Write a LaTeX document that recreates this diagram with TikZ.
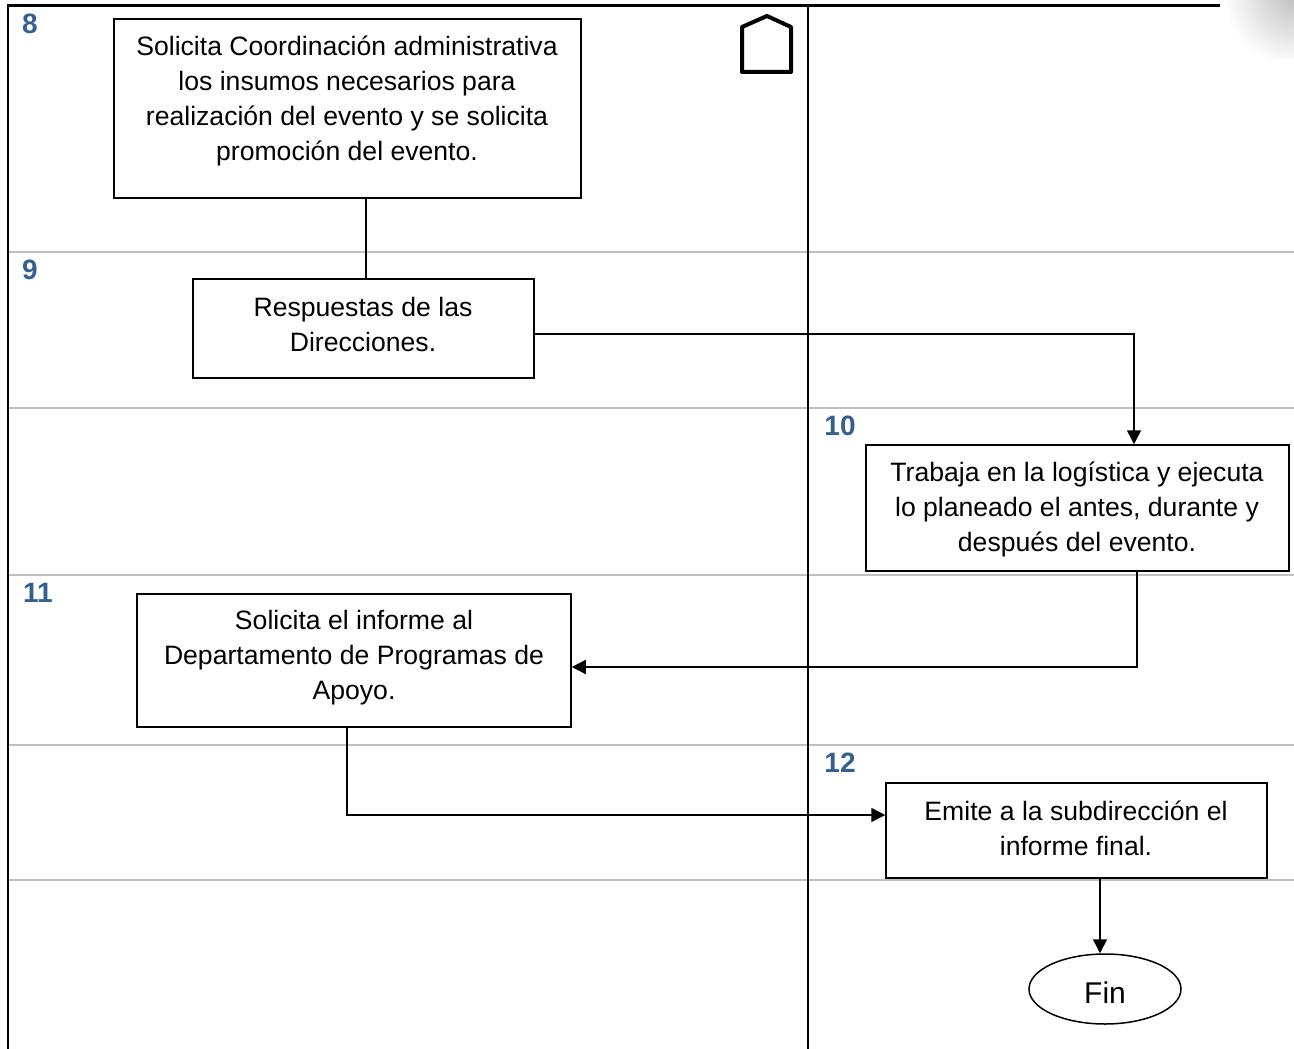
\documentclass[tikz,border=0pt]{standalone}
\usepackage{fontspec}
\setmainfont{Liberation Sans}
\usetikzlibrary{arrows.meta,shapes.geometric}
\definecolor{stepblue}{RGB}{54,95,145}
\definecolor{gridgray}{RGB}{192,192,192}
\begin{document}
\begin{tikzpicture}[x=1pt,y=-1pt,
  box/.style={draw=black, line width=1.5pt, rectangle, inner sep=0pt, fill=white},
  txt/.style={align=center, font=\fontsize{26.6}{35}\selectfont, inner sep=0pt},
  num/.style={text=stepblue, font=\fontsize{28}{30}\selectfont\bfseries, inner sep=0pt},
  conn/.style={draw=black, line width=1.5pt},
  arr/.style={conn, -{Triangle[length=14pt,width=14pt]}},
  grid/.style={draw=gridgray, line width=2pt},
  frame/.style={draw=black, line width=2pt}
]
\useasboundingbox (0,0) rectangle (1294,1049);
% background shading top right
\begin{scope}
  \clip (1200,0) rectangle (1294,60);
  \shade[inner color=black!25, outer color=white] (1294,-5) circle (70pt);
\end{scope}
% lanes
\foreach \yy in {252,408,575,745,880} \draw[grid] (8,\yy) -- (1294,\yy);
\draw[frame] (8,6) -- (8,1049);
\draw[frame] (808,6) -- (808,1049);
\draw[draw=black, line width=3pt] (7,6) -- (1220,6);
% off-page connector
\draw[line width=4pt, line join=round, line cap=round] (742,72) -- (791,72) -- (791,27) -- (767,16) -- (742,27) -- cycle;
% step numbers
\node[num] (n8) at (30,24) {8};
\node[num] (n9) at (30,270) {9};
\node[num] (n10) at (840,426) {10};
\node[num] (n11) at (38,593) {11};
\node[num] (n12) at (840,763) {12};
% boxes
\node[box, minimum width=467pt, minimum height=179pt] (b8) at (347.5,108.5) {};
\node[txt] (t8) at (347,101) {Solicita Coordinación administrativa\\los insumos necesarios para\\realización del evento y se solicita\\promoción del evento.};
\node[box, minimum width=341pt, minimum height=99pt] (b9) at (363.5,328.5) {};
\node[txt] (t9) at (363,324) {Respuestas de las\\Direcciones.};
\node[box, minimum width=423pt, minimum height=126pt] (b10) at (1077.5,508) {};
\node[txt] (t10) at (1077,509.5) {Trabaja en la logística y ejecuta\\lo planeado el antes, durante y\\después del evento.};
\node[box, minimum width=434pt, minimum height=133pt] (b11) at (354,660.5) {};
\node[txt] (t11) at (354,657.5) {Solicita el informe al\\Departamento de Programas de\\Apoyo.};
\node[box, minimum width=381pt, minimum height=95pt] (b12) at (1076.5,830.5) {};
\node[txt] (t12) at (1076,828) {Emite a la subdirección el\\informe final.};
\node[draw=black, line width=1.5pt, ellipse, minimum width=152pt, minimum height=70pt, inner sep=0pt] (fin) at (1105,989) {};
\node[font=\fontsize{30}{35}\selectfont, inner sep=0pt] (fint) at (1105,993) {Fin};
% connectors
\coordinate (k0) at (366,0);
\coordinate (k1) at (1134,334);
\coordinate (k2) at (1137,667);
\coordinate (k3) at (347,815);
\coordinate (k4) at (1100,0);
\draw[conn] (b8.south -| k0) -- (b9.north -| k0);
\draw[arr] (b9.east |- k1) -- (k1) -- (b10.north -| k1);
\draw[arr] (b10.south -| k2) -- (k2) -- (b11.east |- k2);
\draw[arr] (b11.south -| k3) -- (k3) -- (b12.west |- k3);
\draw[arr] (b12.south -| k4) -- (fin.north -| k4);
\end{tikzpicture}
\end{document}
